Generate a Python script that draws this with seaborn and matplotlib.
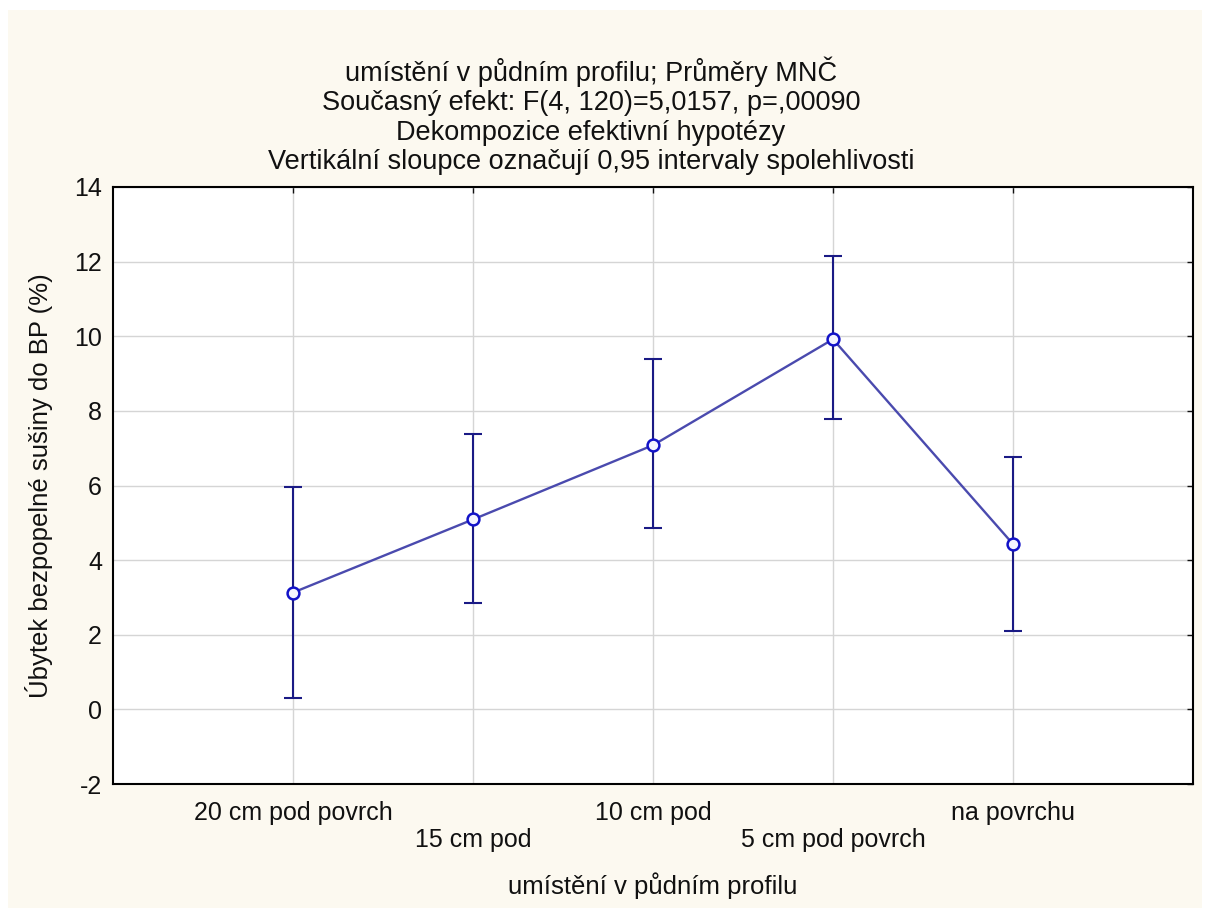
import matplotlib
matplotlib.use("Agg")
import matplotlib.pyplot as plt
import seaborn as sns
import pandas as pd
from matplotlib.patches import Rectangle

categories = ["20 cm pod povrch", "15 cm pod", "10 cm pod", "5 cm pod povrch", "na povrchu"]
means = [3.13, 5.09, 7.08, 9.92, 4.43]
lower = [0.30, 2.85, 4.85, 7.78, 2.10]
upper = [5.95, 7.37, 9.39, 12.15, 6.76]
y_ticks = [-2, 0, 2, 4, 6, 8, 10, 12, 14]

title_lines = [
    "umístění v půdním profilu; Průměry MNČ",
    "Současný efekt: F(4, 120)=5,0157, p=,00090",
    "Dekompozice efektivní hypotézy",
    "Vertikální sloupce označují 0,95 intervaly spolehlivosti",
]
x_label = "umístění v půdním profilu"
y_label = "Úbytek bezpopelné sušiny do BP (%)"

sns.set_theme(style="white")
plt.rcParams['font.family'] = ['Liberation Sans', 'DejaVu Sans']
plt.rcParams['text.color'] = '#111111'
plt.rcParams['axes.labelcolor'] = '#111111'

W, H = 1210, 910
fig = plt.figure(figsize=(W / 100, H / 100), dpi=100, facecolor='white')
fig.patches.append(Rectangle((8 / W, 2 / H), (1202 - 8) / W, (900 - 2) / H,
                             transform=fig.transFigure, facecolor='#FCF9F0',
                             edgecolor='none', zorder=-10))

ax = fig.add_axes([113 / W, 1 - 784 / H, 1080 / W, 597 / H])
ax.set_facecolor('white')

df = pd.DataFrame({"umisteni": categories, "prumer": means})

yerr = [[m - lo for m, lo in zip(means, lower)], [up - m for m, up in zip(means, upper)]]
ax.errorbar(categories, means, yerr=yerr, fmt='none', ecolor='#1A1A85',
            elinewidth=1.5, capsize=6.5, capthick=1.5, zorder=3)

sns.lineplot(data=df, x="umisteni", y="prumer", sort=False, ax=ax,
             color='#4A4AAE', linewidth=1.7, marker='o', markersize=8.5,
             markerfacecolor='#F4F4FF', markeredgecolor='#1212C8',
             markeredgewidth=1.8, zorder=4)

ax.set_xlim(-1, 5)
ax.set_ylim(-2, 14)
ax.set_yticks(y_ticks)
ax.set_yticklabels([str(t) for t in y_ticks])
ax.set_xticks(range(len(categories)))
ax.set_xticklabels([c if i % 2 == 0 else "\n" + c for i, c in enumerate(categories)])

ax.grid(True, color='#D5D5D5', linewidth=1.0, zorder=0)
ax.set_axisbelow(True)
ax.tick_params(direction='in', length=4, width=1, top=True, right=True,
               labelsize=18, colors='#111111', pad=8)
ax.tick_params(axis='x', pad=12)
for s in ax.spines.values():
    s.set_color('black')
    s.set_linewidth(1.5)

ax.set_xlabel(x_label, fontsize=18.5)
ax.set_ylabel(y_label, fontsize=18.5)
ax.xaxis.set_label_coords(0.5, (784 - 872) / 597)
ax.yaxis.set_label_coords((53 - 113) / 1080, 0.5)

ys = [72, 103, 133, 162]
for t, y in zip(title_lines, ys):
    fig.text(591 / W, 1 - y / H, t, ha='center', va='center', fontsize=19.5)

fig.savefig("out.png", dpi=100, facecolor=fig.get_facecolor())
